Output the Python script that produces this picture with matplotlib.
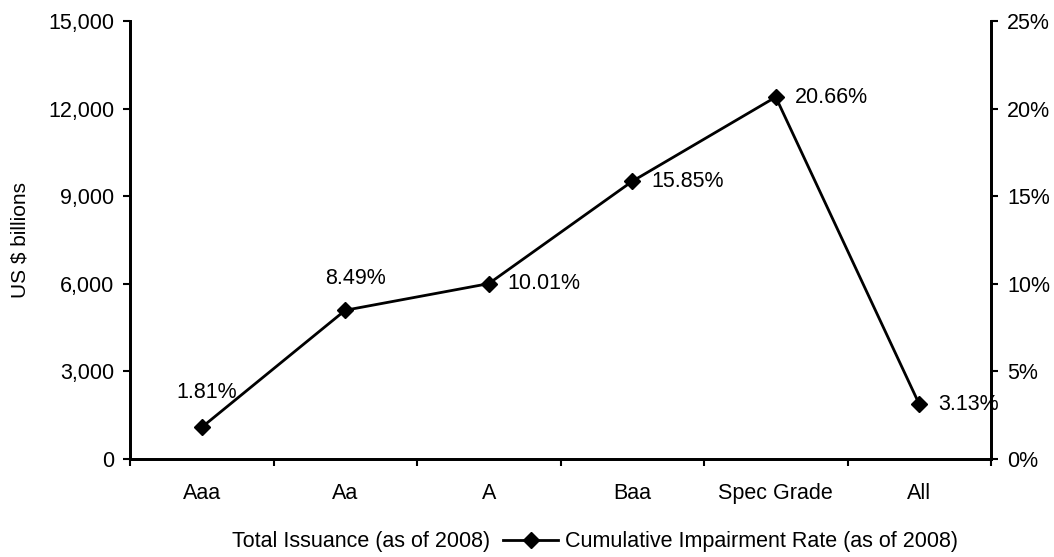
import matplotlib
matplotlib.use("Agg")
import matplotlib.pyplot as plt
from matplotlib.patches import Patch
from matplotlib.lines import Line2D
import numpy as np

plt.rcParams['font.family'] = ['Liberation Sans', 'DejaVu Sans']

categories = ["Aaa", "Aa", "A", "Baa", "Spec Grade", "All"]
impairment_rate = [1.81, 8.49, 10.01, 15.85, 20.66, 3.13]
left_ticks = [0, 3000, 6000, 9000, 12000, 15000]
right_ticks = [0, 5, 10, 15, 20, 25]

FS = 15.5

fig = plt.figure(figsize=(10.54, 5.57), dpi=100)
ax = fig.add_axes([130/1054, 1-459/557, (991-130)/1054, (459-21)/557])
ax2 = ax.twinx()

x = np.arange(len(categories))
ax.set_xlim(-0.5, len(categories)-0.5)
ax.set_ylim(0, 15000)
ax.set_yticks(left_ticks)
ax.set_yticklabels([f"{v:,}" for v in left_ticks])
ax.set_ylabel("US $ billions", fontsize=15)
ax.yaxis.set_label_coords((30-130)/861, 0.5)

ax2.set_ylim(0, 25)
ax2.set_yticks(right_ticks)
ax2.set_yticklabels([f"{v}%" for v in right_ticks])

ax2.plot(x, impairment_rate, color='black', lw=2, marker='D', markersize=8.5,
         zorder=5, clip_on=False)

offsets = [(-18, 25), (-14.4, 23), (13.5, 0), (13.5, 0), (13.5, 0), (13.5, 0)]
for xi, v, off in zip(x, impairment_rate, offsets):
    ax2.annotate(f"{v:.2f}%", (xi, v), xytext=off, textcoords='offset points',
                 ha='left', va='center', fontsize=FS)

# x ticks at category boundaries, labels at centers
ax.set_xticks(np.arange(-0.5, len(categories)), minor=False)
ax.set_xticklabels([])
ax.set_xticks(x, minor=True)
ax.set_xticklabels(categories, minor=True, fontsize=FS)
ax.tick_params(axis='x', which='major', direction='out', length=5, width=1.5)
ax.tick_params(axis='x', which='minor', length=0, pad=17)
ax.tick_params(axis='y', direction='out', length=5, width=1.5, labelsize=FS, pad=6.5)
ax2.tick_params(axis='y', direction='out', length=5, width=1.5, labelsize=FS, pad=6.5)

for a in (ax, ax2):
    a.spines['top'].set_visible(False)
    for s in ('left', 'right', 'bottom'):
        a.spines[s].set_linewidth(2)

handles = [Patch(facecolor='white', edgecolor='none', label="Total Issuance (as of 2008)"),
           Line2D([0], [0], color='black', lw=2, marker='D', markersize=8.5,
                  label="Cumulative Impairment Rate (as of 2008)")]
fig.legend(handles=handles, loc='center left', bbox_to_anchor=(170/1054, 15/557),
           ncol=2, frameon=False, fontsize=FS, handlelength=2.56, handletextpad=0.3,
           columnspacing=0.62, borderpad=0, borderaxespad=0)

fig.savefig("out.png", dpi=100)
